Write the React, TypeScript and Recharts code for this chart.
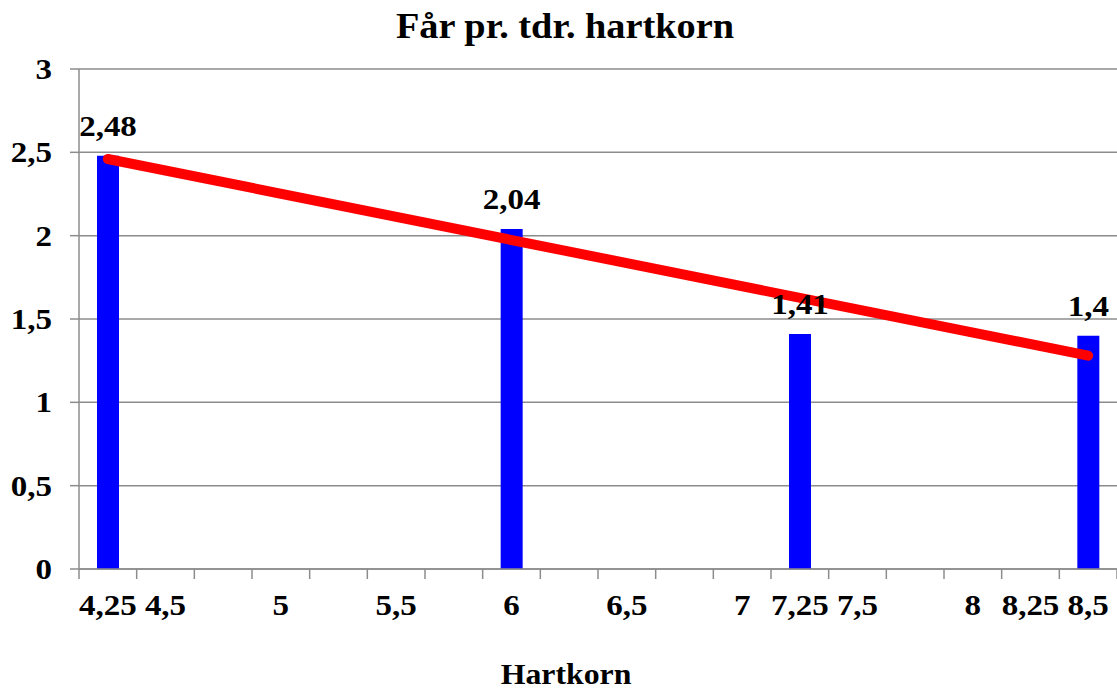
import React from 'react';
import { ComposedChart, Bar, Line, XAxis, YAxis, CartesianGrid, LabelList } from 'recharts';

const CATEGORIES = [4.25, 4.5, 4.75, 5, 5.25, 5.5, 5.75, 6, 6.25, 6.5, 6.75, 7, 7.25, 7.5, 7.75, 8, 8.25, 8.5];
const TICK_LABELS = ['4,25', '4,5', '', '5', '', '5,5', '', '6', '', '6,5', '', '7', '7,25', '7,5', '', '8', '8,25', '8,5'];
const SHEEP = [2.48, null, null, null, null, null, null, 2.04, null, null, null, null, 1.41, null, null, null, null, 1.4];
const TREND = [2.46, null, null, null, null, null, null, null, null, null, null, null, null, null, null, null, null, 1.28];
const Y_TICKS = [0, 0.5, 1, 1.5, 2, 2.5, 3];

const TITLE = 'Får pr. tdr. hartkorn';
const X_TITLE = 'Hartkorn';

const W = 1117;
const H = 691;
const PLOT_LEFT = 79;
const PLOT_TOP = 69;
const PLOT_BOTTOM = 569;
const BAND = (W - PLOT_LEFT) / CATEGORIES.length;
const FONT = '"Liberation Serif", "Times New Roman", serif';
const GRID = '#8c8c8c';
const LABEL_SIZE = 30;
const STRETCH = 1.1;

const data = CATEGORIES.map((c, i) => ({
  key: String(c),
  sheep: SHEEP[i],
  trend: TREND[i],
}));

const fmt = (v: any) => (v === null || v === undefined ? '' : String(v).replace('.', ','));

const SText = ({ x, y, anchor = 'middle', size = LABEL_SIZE, sx = STRETCH, children }: any) => (
  <text
    transform={`translate(${x},${y}) scale(${sx},1)`}
    textAnchor={anchor}
    fontFamily={FONT}
    fontWeight="bold"
    fontSize={size}
    fill="#000"
  >
    {children}
  </text>
);

const XTick = (props: any) => {
  const { x, index } = props;
  const label = TICK_LABELS[index] ?? '';
  const left = x - BAND / 2;
  return (
    <g>
      <line x1={left} x2={left} y1={PLOT_BOTTOM} y2={PLOT_BOTTOM + 10} stroke={GRID} strokeWidth={1.5} />
      {index === CATEGORIES.length - 1 && (
        <line x1={x + BAND / 2} x2={x + BAND / 2} y1={PLOT_BOTTOM} y2={PLOT_BOTTOM + 10} stroke={GRID} strokeWidth={1.5} />
      )}
      <SText x={x} y={615}>{label}</SText>
    </g>
  );
};

const YTick = (props: any) => {
  const { x, y, payload } = props;
  return <SText x={x} y={y + 10} anchor="end">{fmt(payload.value)}</SText>;
};

const BarLabel = (props: any) => {
  const { x, y, width, value } = props;
  if (value === null || value === undefined) return null;
  return <SText x={x + width / 2} y={y - 20}>{fmt(value)}</SText>;
};

export default function App() {
  return (
    <div style={{ position: 'absolute', left: 0, top: 0, width: W, height: H, background: '#fff' }}>
      <ComposedChart
        width={W}
        height={H}
        data={data}
        margin={{ top: PLOT_TOP, right: 0, left: 0, bottom: 0 }}
        barCategoryGap={0}
      >
        <CartesianGrid vertical={false} stroke={GRID} strokeWidth={1.5} />
        <XAxis
          dataKey="key"
          type="category"
          height={H - PLOT_BOTTOM}
          interval={0}
          tickLine={false}
          axisLine={{ stroke: GRID, strokeWidth: 1.5 }}
          tick={<XTick />}
        />
        <YAxis
          type="number"
          domain={[0, 3]}
          ticks={Y_TICKS}
          width={PLOT_LEFT}
          tickSize={9}
          tickMargin={18}
          tickLine={{ stroke: GRID, strokeWidth: 1.5 }}
          axisLine={{ stroke: GRID, strokeWidth: 1.5 }}
          tick={<YTick />}
        />
        <Bar dataKey="sheep" fill="#0000FF" barSize={22} isAnimationActive={false}>
          <LabelList dataKey="sheep" content={<BarLabel />} />
        </Bar>
        <Line
          dataKey="trend"
          stroke="#FF0000"
          strokeWidth={10}
          strokeLinecap="round"
          dot={false}
          activeDot={false}
          connectNulls
          isAnimationActive={false}
        />
      </ComposedChart>
      <svg
        width={W}
        height={H}
        style={{ position: 'absolute', left: 0, top: 0, pointerEvents: 'none' }}
      >
        <SText x={565} y={38} size={36} sx={1.065}>{TITLE}</SText>
        <SText x={566} y={684} size={30} sx={1.06}>{X_TITLE}</SText>
      </svg>
    </div>
  );
}
